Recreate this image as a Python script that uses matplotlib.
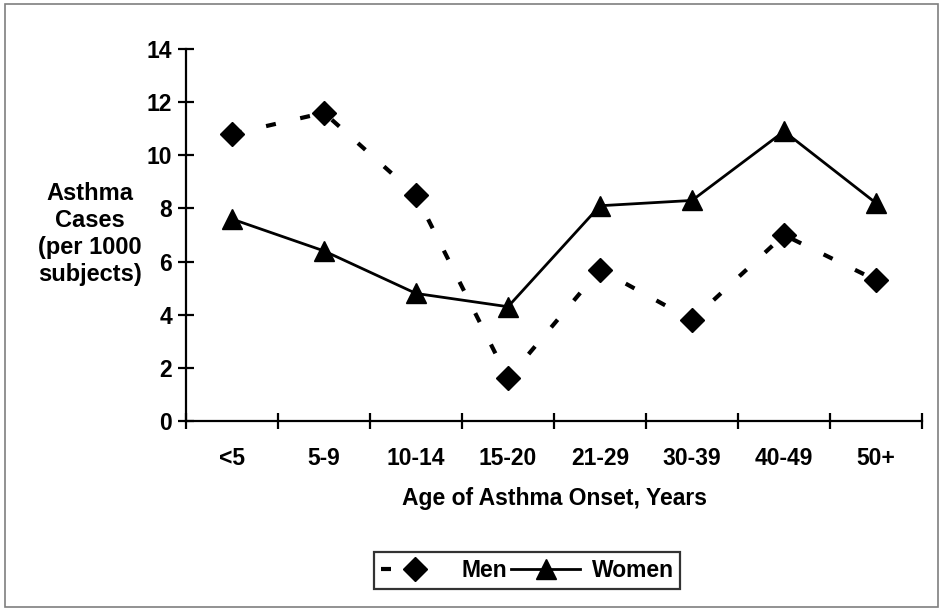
import matplotlib.pyplot as plt
from matplotlib.patches import Rectangle

# data
ages = ['<5', '5-9', '10-14', '15-20', '21-29', '30-39', '40-49', '50+']
men = [10.8, 11.6, 8.5, 1.6, 5.7, 3.8, 7.0, 5.3]
women = [7.6, 6.4, 4.8, 4.3, 8.1, 8.3, 10.9, 8.2]
yticks = [0, 2, 4, 6, 8, 10, 12, 14]

plt.rcParams['font.family'] = ['Liberation Sans', 'DejaVu Sans']
plt.rcParams['font.weight'] = 'bold'
fs = 16.5

fig = plt.figure(figsize=(9.45, 6.12), dpi=100)
fig.patches.append(Rectangle((0.005, 0.008), 0.988, 0.985, transform=fig.transFigure,
                             fill=False, edgecolor='#7f7f7f', lw=1.2))

ax = fig.add_axes([0.1968, 0.3121, 0.7789, 0.6079])
x = list(range(len(ages)))

ax.plot(x, men, color='black', lw=3.0, linestyle=(0, (2.4, 6.0)),
        marker='D', markersize=12, label='Men')
ax.plot(x, women, color='black', lw=2.0, linestyle='-',
        marker='^', markersize=15, label='Women')

ax.set_xlim(-0.5, len(ages) - 0.5)
ax.set_ylim(0, 14)
ax.set_yticks(yticks)
ax.set_xticks([i - 0.5 for i in range(len(ages) + 1)])
ax.set_xticklabels([])
ax.set_xticks(x, minor=True)
ax.set_xticklabels(ages, minor=True)

for s in ['top', 'right']:
    ax.spines[s].set_visible(False)
for s in ['left', 'bottom']:
    ax.spines[s].set_linewidth(1.6)

ax.tick_params(axis='both', which='major', direction='inout', length=12, width=1.6,
               labelsize=fs)
ax.tick_params(axis='y', pad=4)
ax.tick_params(axis='x', which='minor', length=0, labelsize=fs, pad=19)

ax.set_xlabel('Age of Asthma Onset, Years', fontsize=fs, fontweight='bold', labelpad=12)
fig.text(0.095, 0.617, 'Asthma\nCases\n(per 1000\nsubjects)', ha='center', va='center',
         fontsize=17, fontweight='bold', linespacing=1.22)

leg = fig.legend(loc='center', bbox_to_anchor=(0.558, 0.0675), ncol=2, fontsize=fs,
                 frameon=True, fancybox=False, edgecolor='black', handlelength=3.0,
                 columnspacing=0.2, handletextpad=0.5, borderpad=0.3)
leg.get_frame().set_linewidth(1.6)

fig.savefig('out.png', dpi=100)
